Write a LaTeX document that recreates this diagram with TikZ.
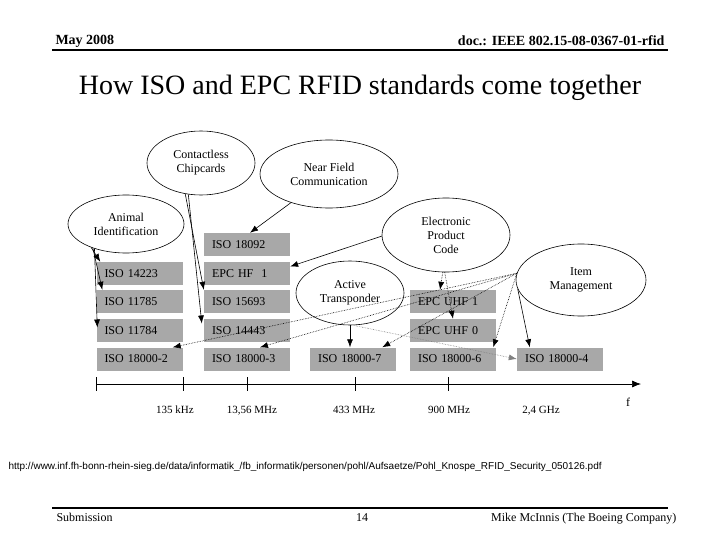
\documentclass[tikz,border=0pt]{standalone}
\usepackage{fontspec}
\setmainfont{Liberation Serif}
\newfontfamily\urlfont{Liberation Sans}
\usetikzlibrary{arrows.meta,shapes.geometric}
\definecolor{boxgray}{RGB}{168,168,168}
\tikzset{
  ell/.style={ellipse,draw,line width=0.6pt,fill=white,inner sep=0pt,align=center,font=\fontsize{12}{14}\selectfont},
  std/.style={rectangle,fill=boxgray,minimum height=23pt,text width=70pt,inner xsep=8pt,align=left,font=\fontsize{12}{14}\selectfont},
  link/.style={line width=0.6pt,-{Latex[length=8pt,width=6pt]}},
  dotlink/.style={link,densely dotted},
  freq/.style={anchor=base,font=\fontsize{11}{13}\selectfont},
}

\begin{document}
\begin{tikzpicture}[x=1pt,y=-1pt]
  \fill[white] (0,0) rectangle (720,540);
  \useasboundingbox (0,0) rectangle (720,540);

  % header and footer
  \node[anchor=base west,font=\bfseries\fontsize{14}{16}\selectfont] (date) at (52,45) {May 2008};
  \node[anchor=base east,font=\bfseries\fontsize{14}{16}\selectfont] (doc) at (668,46) {doc.: IEEE 802.15-08-0367-01-rfid};
  \draw[line width=1.6pt] (52,50) -- (668,50);
  \node[font=\fontsize{28}{32}\selectfont] (title) at (360,88) {How ISO and EPC RFID standards come together};
  \node[anchor=west,font=\urlfont\fontsize{10}{12}\selectfont] (url) at (5,467) {http://www.inf.fh-bonn-rhein-sieg.de/data/informatik\_/fb\_informatik/personen/pohl/Aufsaetze/Pohl\_Knospe\_RFID\_Security\_050126.pdf};
  \draw[line width=1.6pt] (52,508) -- (668,508);
  \node[anchor=base west,font=\fontsize{12}{14}\selectfont] (sub) at (53,521) {Submission};
  \node[anchor=base,font=\fontsize{12}{14}\selectfont] (page) at (362,521) {14};
  \node[anchor=base east,font=\fontsize{12}{14}\selectfont] (auth) at (680,521) {Mike McInnis (The Boeing Company)};

  % application areas
  \node[ell,minimum width=116pt,minimum height=58pt] (animal) at (126,224) {Animal\\Identification};
  \node[ell,minimum width=108pt,minimum height=64pt] (chip) at (201,163) {Contactless\\Chipcards};
  \node[ell,minimum width=138pt,minimum height=68pt] (nfc) at (329,174) {Near Field\\Communication};
  \node[ell,minimum width=128pt,minimum height=74pt] (epc) at (446,235) {Electronic\\Product\\Code};
  \node[ell,minimum width=130pt,minimum height=72pt] (item) at (581,280) {Item\\Management};
  \node[ell,minimum width=108pt,minimum height=64pt] (active) at (350,293) {Active\\Transponder};

  % standards
  \node[std] (i14223) at (139.5,273.5) {ISO 14223};
  \node[std] (i11785) at (139.5,301.5) {ISO 11785};
  \node[std] (i11784) at (139.5,330.5) {ISO 11784};
  \node[std] (i180002) at (139.5,359) {ISO 18000-2};
  \node[std] (i18092) at (247,244.5) {ISO 18092};
  \node[std] (hf1) at (247,273.5) {EPC HF\ \ 1};
  \node[std] (i15693) at (247,301.5) {ISO 15693};
  \node[std] (i14443) at (247,330.5) {ISO 14443};
  \node[std] (i180003) at (247,359) {ISO 18000-3};
  \node[std] (i180007) at (353,359) {ISO 18000-7};
  \node[std] (uhf1) at (453,301.5) {EPC UHF 1};
  \node[std] (uhf0) at (453,330.5) {EPC UHF 0};
  \node[std] (i180006) at (453,359) {ISO 18000-6};
  \node[std] (i180004) at (560,359) {ISO 18000-4};

  % links
  \draw[link] (animal.214) -- ([xshift=4pt]i14223.north west);
  \draw[link] (animal.216) -- ([xshift=6pt]i11785.north west);
  \draw[link] (animal.218) -- ([xshift=1pt,yshift=3pt]i11784.west);
  \draw[link] (chip.243) -- (i15693.north west);
  \draw[link] (chip.248) -- ([xshift=-2pt,yshift=7pt]i14443.west);
  \draw[link] (nfc.217) -- ([xshift=3pt]i18092.north);
  \draw[link] (epc.181) -- ([yshift=7pt]hf1.east);
  \draw[dotlink] (epc.265) -- ([xshift=-13pt]uhf1.north);
  \draw[dotlink] (epc.268) -- (uhf0.north);
  \draw[dotlink] (item.174) -- ([xshift=-10pt]i180002.north east);
  \draw[dotlink] (item.174) -- ([xshift=13pt]i180003.north);
  \draw[dotlink] (item.174) -- ([xshift=-14pt]i180007.north east);
  \draw[dotlink] (item.174) -- ([xshift=-3pt]i180006.north east);
  \draw[link] (item.188) -- ([xshift=13pt]i180004.north west);
  \draw[link] (active.south) -- (active.south |- i180007.north);
  \draw[dotlink,gray] (active.275) -- (i180004.west);

  % frequency axis
  \coordinate (f0) at (96,384);
  \coordinate (f1) at (641,384);
  \draw[line width=0.7pt,-{Latex[length=9pt,width=7pt]}] (f0) -- (f1);
  \draw[line width=0.7pt] (96,377) -- (96,391);
  \draw[line width=0.7pt] (183,377) -- (183,391);
  \draw[line width=0.7pt] (247,377) -- (247,391);
  \draw[line width=0.7pt] (355,377) -- (355,391);
  \draw[line width=0.7pt] (448,377) -- (448,391);
  \node[freq] (khz) at (175,413) {135 kHz};
  \node[freq] (mhz13) at (252,413) {13,56 MHz};
  \node[freq] (mhz433) at (354,413) {433 MHz};
  \node[freq] (mhz900) at (449,413) {900 MHz};
  \node[freq] (ghz) at (541,413) {2,4 GHz};
  \node[freq,font=\fontsize{12}{14}\selectfont] (f) at (628,406) {f};
\end{tikzpicture}
\end{document}
